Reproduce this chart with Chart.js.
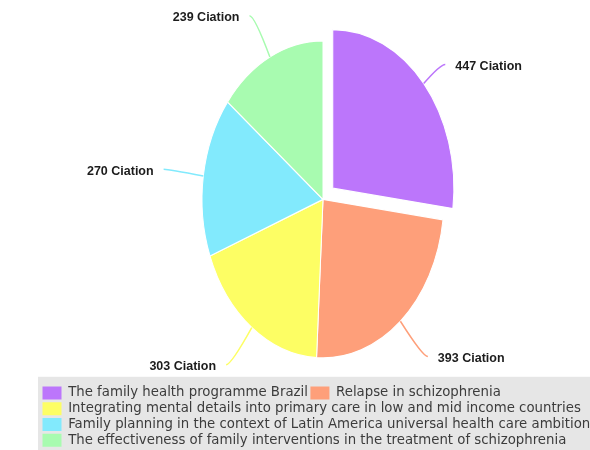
<!DOCTYPE html>
<html>
<head>
<meta charset="utf-8">
<script src="https://cdn.jsdelivr.net/npm/chart.js@4.4.1/dist/chart.umd.min.js"></script>
<style>
  html, body { margin: 0; padding: 0; background: #fff; overflow: hidden; }
  /* a bit taller than the window so the legend panel runs off the bottom */
  #wrap { width: 590px; height: 460px; }
</style>
</head>
<body>
<div id="wrap"><canvas id="chart"></canvas></div>
<script>
const titles = [
  'The family health programme Brazil',
  'Relapse in schizophrenia',
  'Integrating mental details into primary care in low and mid income countries',
  'Family planning in the context of Latin America universal health care ambition',
  'The effectiveness of family interventions in the treatment of schizophrenia'
];
const citations = [447, 393, 303, 270, 239];
const sliceColors = ['#bc76fb', '#fe9f7a', '#fdfe64', '#82eafd', '#a8fbb0'];
const explode = [52, 0, 0, 0, 0]; // chart.js moves the arc by offset / 4
const suffix = ' Ciation';

// chart.js only draws round pies, the reference is a tall ellipse -> squash ctx
const ellipse = {
  id: 'ellipse',
  beforeDatasetsDraw(chart, args, opts) {
    const arc = chart.getDatasetMeta(0).data[0];
    const ctx = chart.ctx;
    ctx.save();
    ctx.translate(arc.x + opts.shiftX, arc.y);
    ctx.scale(1, opts.scaleY);
    ctx.translate(-arc.x, -arc.y);
  },
  afterDatasetsDraw(chart) {
    chart.ctx.restore();
  }
};

// outside labels with curved leader lines
const sliceLabels = {
  id: 'sliceLabels',
  afterDatasetsDraw(chart, args, opts) {
    const ctx = chart.ctx;
    const { scaleY: k, shiftX } = chart.options.plugins.ellipse;
    const ds = chart.data.datasets[0];
    chart.getDatasetMeta(0).data.forEach((arc, i) => {
      const mid = (arc.startAngle + arc.endAngle) / 2;
      const cos = Math.cos(mid), sin = Math.sin(mid) * k;
      const cx = arc.x + shiftX, cy = arc.y;
      const r = arc.outerRadius;
      const off = (arc.options.offset || 0) / 4;
      const sx = cx + cos * (r + off), sy = cy + sin * (r + off);
      const ax = cx + cos * r * opts.reach, ay = cy + sin * r * opts.reach;
      const side = cos >= 0 ? 1 : -1;
      const ex = ax + side * opts.tail;

      ctx.save();
      ctx.strokeStyle = ds.backgroundColor[i];
      ctx.lineWidth = 1.5;
      ctx.beginPath();
      ctx.moveTo(sx, sy);
      ctx.quadraticCurveTo(ax, ay, ex, ay);
      ctx.stroke();

      ctx.fillStyle = '#1c1c1c';
      ctx.font = 'bold 12.5px "Liberation Sans", Arial, sans-serif';
      ctx.textBaseline = 'middle';
      ctx.textAlign = side > 0 ? 'left' : 'right';
      ctx.fillText(ds.data[i] + suffix, ex + side * opts.gap, ay + 2);
      ctx.restore();
    });
  }
};

// grey panel behind the legend
const legendPanel = {
  id: 'legendPanel',
  beforeDraw(chart) {
    const lg = chart.legend;
    const ctx = chart.ctx;
    ctx.save();
    ctx.fillStyle = '#e6e6e6';
    ctx.fillRect(lg.left - 2, lg.top - 7, chart.width, chart.height);
    ctx.restore();
  }
};

new Chart(document.getElementById('chart'), {
  type: 'pie',
  data: {
    labels: titles,
    datasets: [{
      data: citations,
      backgroundColor: sliceColors,
      borderColor: '#fff',
      borderWidth: 1,
      offset: explode,
      hoverOffset: 0,
      radius: 121
    }]
  },
  options: {
    responsive: true,
    maintainAspectRatio: false,
    animation: false,
    layout: { padding: { left: 40, right: 0, top: 15, bottom: 3 } },
    plugins: {
      ellipse: { scaleY: 1.31, shiftX: 8 },
      sliceLabels: { reach: 1.29, tail: 5, gap: 10 },
      tooltip: { enabled: false },
      legend: {
        position: 'bottom',
        align: 'start',
        labels: {
          boxWidth: 19,
          boxHeight: 13,
          padding: 2.5,
          color: '#3c3c3c',
          font: { family: '"DejaVu Sans", sans-serif', size: 13.3 },
          generateLabels(chart) {
            const base = Chart.overrides.doughnut.plugins.legend.labels.generateLabels(chart);
            return base.map(item => Object.assign(item, { lineWidth: 0 }));
          }
        }
      }
    }
  },
  plugins: [legendPanel, ellipse, sliceLabels]
});
</script>
</body>
</html>
